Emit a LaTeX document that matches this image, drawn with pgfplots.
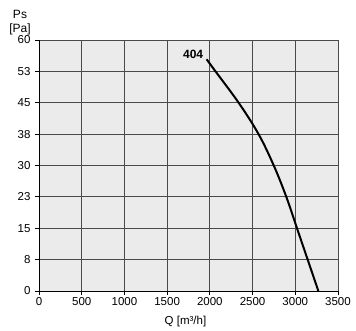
\documentclass[border=0pt]{standalone}
\usepackage{pgfplots}
\pgfplotsset{compat=1.18}
\usepackage{fontspec}
\setmainfont{Liberation Sans}
\definecolor{bg}{HTML}{EBEBEB}
\definecolor{gridc}{HTML}{4A4A4A}
\begin{document}
\begin{tikzpicture}
\begin{axis}[
  name=ax,
  scale only axis,
  width=299pt, height=251pt,
  xmin=0, xmax=3500, ymin=0, ymax=60,
  xtick={0,500,...,3500},
  ytick={0,7.5,15,22.5,30,37.5,45,52.5,60},
  yticklabels={0,8,15,23,30,38,45,53,60},
  axis background/.style={fill=bg},
  grid=major,
  major grid style={gridc, line width=0.9pt},
  axis x line*=bottom, axis y line*=left,
  axis line style={black, line width=0.9pt, -},
  tick style={black, line width=0.9pt},
  tick align=outside,
  major tick length=4pt,
  /pgf/number format/assume math mode=true,
  /pgf/number format/1000 sep={},
  tick label style={font=\fontsize{11.5}{13}\selectfont},
  xticklabel style={yshift=1pt},
  yticklabel style={xshift=-1pt},
  clip=false,
]
\addplot[black, line width=2pt, smooth, tension=0.6] coordinates {
  (1962,55.4) (2066,52.5) (2337,45) (2570,37.5) (2748,30) (2895,22.5) (3020,15) (3145,7.5) (3270,0)
};
\node[anchor=east, font=\bfseries\fontsize{12}{13}\selectfont, inner sep=1pt] at (axis cs:1935,56.6) {404};
\end{axis}
\node[font=\fontsize{12}{13}\selectfont] at ([xshift=-19pt,yshift=26pt]ax.north west) {Ps};
\node[font=\fontsize{12}{13}\selectfont] at ([xshift=-19pt,yshift=11pt]ax.north west) {[Pa]};
\node[font=\fontsize{11.5}{13}\selectfont] at ([xshift=-3pt,yshift=-31pt]ax.south) {Q [m³/h]};
\pgfresetboundingbox
\path ([xshift=-39pt,yshift=-40pt]ax.south west) rectangle ([xshift=18pt,yshift=40pt]ax.north east);
\end{tikzpicture}
\end{document}
